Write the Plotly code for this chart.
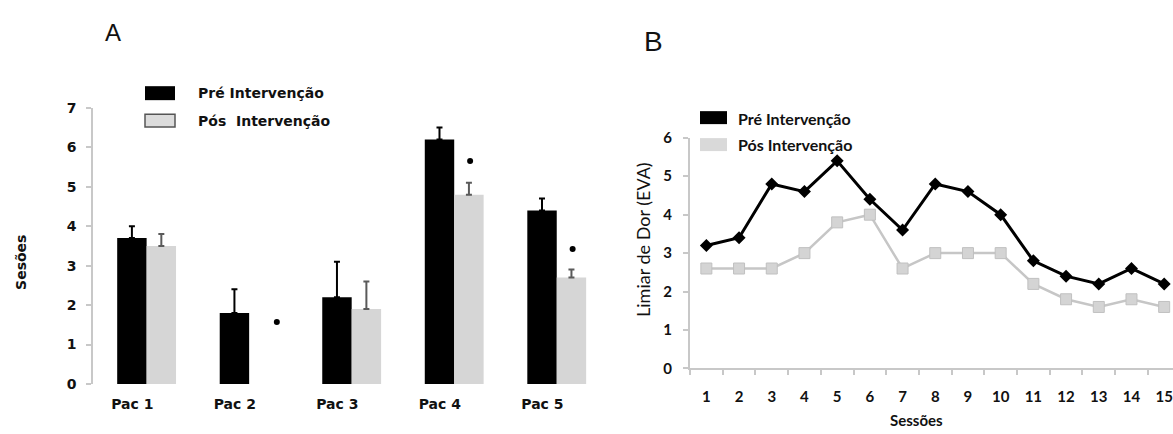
import plotly.graph_objects as go

W, H = 1173, 434

# ---- Panel A data ----
patients = ["Pac 1", "Pac 2", "Pac 3", "Pac 4", "Pac 5"]
pre_a = [3.7, 1.8, 2.2, 6.2, 4.4]
pre_a_err = [0.3, 0.6, 0.9, 0.3, 0.3]
pos_a = [3.5, None, 1.9, 4.8, 2.7]
pos_a_err = [0.3, 0, 0.7, 0.3, 0.2]
star_idx = [1, 3, 4]
star_val = [1.57, 5.65, 3.42]
star_off = [0.27, 0.155, 0.155]

# ---- Panel B data ----
sessions = [str(i) for i in range(1, 16)]
pre_b = [3.2, 3.4, 4.8, 4.6, 5.4, 4.4, 3.6, 4.8, 4.6, 4.0, 2.8, 2.4, 2.2, 2.6, 2.2]
pos_b = [2.6, 2.6, 2.6, 3.0, 3.8, 4.0, 2.6, 3.0, 3.0, 3.0, 2.2, 1.8, 1.6, 1.8, 1.6]

# vertical calibration of the photographed page
VA, VB = 0.96, 8.7

def px(x):
    return x / W

def py(y):
    yt = (y - VB) / VA
    return max(0.0, min(1.0, 1 - yt / H))

BLACK = "#000000"
GREY = "#d6d6d6"
AXC = "#c8c8c8"
FA = "DejaVu Sans"
FB = "Lato"

bw = 0.287
xi = list(range(len(patients)))

fig = go.Figure()
fig.add_trace(go.Bar(
    x=xi, y=pre_a, width=bw, offset=-bw, marker=dict(color=BLACK, line=dict(width=0)),
    error_y=dict(type="data", array=pre_a_err, arrayminus=[0]*5, symmetric=False,
                 color=BLACK, thickness=2, width=3),
    xaxis="x", yaxis="y", showlegend=False, cliponaxis=False))
fig.add_trace(go.Bar(
    x=xi, y=pos_a, width=bw, offset=0, marker=dict(color=GREY, line=dict(width=0)),
    error_y=dict(type="data", array=pos_a_err, arrayminus=[0]*5, symmetric=False,
                 color="#5a5a5a", thickness=2, width=3),
    xaxis="x", yaxis="y", showlegend=False, cliponaxis=False))
fig.add_trace(go.Scatter(
    x=[i + o for i, o in zip(star_idx, star_off)], y=star_val, mode="markers",
    marker=dict(symbol="circle", size=6, color=BLACK),
    xaxis="x", yaxis="y", showlegend=False))

fig.add_trace(go.Scatter(
    x=sessions, y=pos_b, mode="lines+markers",
    line=dict(color="#c6c6c6", width=2.5),
    marker=dict(symbol="square", size=11, color="#d4d4d4", line=dict(color="#c0c0c0", width=1)),
    xaxis="x2", yaxis="y2", showlegend=False, cliponaxis=False))
fig.add_trace(go.Scatter(
    x=sessions, y=pre_b, mode="lines+markers",
    line=dict(color=BLACK, width=3),
    marker=dict(symbol="diamond", size=10, color=BLACK),
    xaxis="x2", yaxis="y2", showlegend=False, cliponaxis=False))

shapes = [
    dict(type="rect", xref="paper", yref="paper", x0=px(145), x1=px(175), y0=py(99), y1=py(85),
         fillcolor=BLACK, line=dict(width=0)),
    dict(type="rect", xref="paper", yref="paper", x0=px(145), x1=px(175), y0=py(126), y1=py(113),
         fillcolor="#dcdcdc", line=dict(color="#555555", width=1.5)),
    dict(type="rect", xref="paper", yref="paper", x0=px(700), x1=px(727), y0=py(123), y1=py(110),
         fillcolor=BLACK, line=dict(width=0)),
    dict(type="rect", xref="paper", yref="paper", x0=px(700), x1=px(727), y0=py(150), y1=py(137),
         fillcolor="#d9d9d9", line=dict(width=0)),
]

ann = [
    dict(text="A", x=px(113), y=py(31), font=dict(family="Liberation Sans", size=24, color="#111")),
    dict(text="B", x=px(653), y=py(40), font=dict(family="Liberation Sans", size=28, color="#111")),
    dict(text="Pré Intervenção", x=px(196), y=py(92), xanchor="left",
         font=dict(family=FA, size=14, color="#111", weight="bold")),
    dict(text="Pós  Intervenção", x=px(196), y=py(120), xanchor="left",
         font=dict(family=FA, size=14, color="#111", weight="bold")),
    dict(text="Pré Intervenção", x=px(736), y=py(117), xanchor="left",
         font=dict(family=FB, size=16, color="#111", weight="bold")),
    dict(text="Pós Intervenção", x=px(736), y=py(143), xanchor="left",
         font=dict(family=FB, size=16, color="#111", weight="bold")),
    dict(text="Sesões", x=px(21), y=py(262), textangle=-90,
         font=dict(family=FA, size=14, color="#111", weight="bold")),
    dict(text="Limiar de Dor (EVA)", x=px(643), y=py(239), textangle=-90,
         font=dict(family=FB, size=18, color="#111")),
    dict(text="Sessões", x=px(916), y=0.0, yanchor="bottom", yshift=-5,
         font=dict(family=FB, size=15, color="#111", weight="bold")),
]
for a in ann:
    a.update(xref="paper", yref="paper", showarrow=False)
    a.setdefault("xanchor", "center")
    a.setdefault("yanchor", "middle")

fig.update_layout(
    width=W, height=H, margin=dict(l=0, r=0, t=0, b=0),
    paper_bgcolor="white", plot_bgcolor="white",
    barmode="overlay", shapes=shapes, annotations=ann,
    xaxis=dict(domain=[px(93.3), px(608)], range=[-0.52, 4.5],
               tickvals=[i - 0.14 for i in xi], ticktext=patients,
               ticks="", showline=False, showgrid=False, zeroline=False,
               tickfont=dict(family=FA, size=14, color="#111", weight="bold"), ticklabelstandoff=10),
    yaxis=dict(domain=[py(383.3), py(106.7)], range=[0, 7], tickvals=list(range(8)),
               ticks="outside", ticklen=5, tickcolor=AXC, tickwidth=1.5,
               showline=True, linecolor=AXC, linewidth=2, showgrid=False, zeroline=False,
               tickfont=dict(family=FA, size=14, color="#111", weight="bold"), ticklabelstandoff=7),
    xaxis2=dict(domain=[px(690), 1.0], anchor="y2", type="category",
                categoryorder="array", categoryarray=sessions,
                range=[-0.5, 14.27], tickson="boundaries",
                ticks="outside", ticklen=5, tickcolor=AXC, tickwidth=1.5,
                showline=True, linecolor=AXC, linewidth=2, showgrid=False, zeroline=False,
                tickfont=dict(family=FB, size=15, color="#111", weight="bold"), ticklabelstandoff=14),
    yaxis2=dict(domain=[py(367.7), py(136.7)], range=[0, 6], anchor="x2",
                tickvals=list(range(7)),
                ticks="outside", ticklen=5, tickcolor=AXC, tickwidth=1.5,
                showline=True, linecolor=AXC, linewidth=2, showgrid=False, zeroline=False,
                tickfont=dict(family=FB, size=15, color="#111", weight="bold"), ticklabelstandoff=8),
)

post = (
    "document.documentElement.style.margin='0';"
    "document.documentElement.style.overflow='hidden';"
    "document.body.style.margin='0';"
    "document.body.style.overflow='hidden';"
    "document.body.style.height='434px';"
    "var d=document.getElementById('{plot_id}');"
    "d.style.position='fixed';d.style.top='0px';d.style.left='0px';"
)
fig.write_html("out.html", config={"displayModeBar": False}, post_script=post)
